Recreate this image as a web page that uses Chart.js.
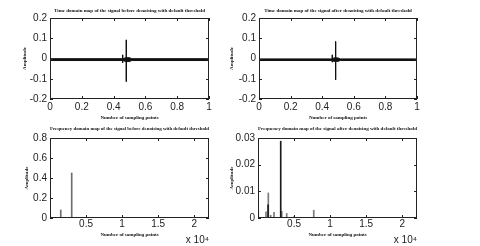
<!DOCTYPE html>
<html>
<head>
<meta charset="utf-8">
<script src="https://cdn.jsdelivr.net/npm/chart.js@4/dist/chart.umd.min.js"></script>
<style>
  body { margin: 0; background: #fff; }
  #wrap { position: relative; width: 480px; height: 246px; overflow: hidden; }
  canvas { position: absolute; }
</style>
</head>
<body>
<div id="wrap">
  <canvas id="time-before" width="240" height="123" style="left:0;top:0"></canvas>
  <canvas id="time-after" width="260" height="123" style="left:220px;top:0"></canvas>
  <canvas id="freq-before" width="240" height="123" style="left:0;top:123px"></canvas>
  <canvas id="freq-after" width="260" height="123" style="left:220px;top:123px"></canvas>
</div>
<script>
// time domain: noise band (upper / lower envelope) + spikes
const bandX = [0, 0.46, 0.475, 0.5, 0.515, 1];
const beforeUpper = [-0.001, -0.001, 0.004, 0.004, -0.001, -0.001];
const beforeLower = [-0.01, -0.01, -0.015, -0.015, -0.01, -0.01];
const afterUpper = [-0.002, -0.002, 0.003, 0.003, -0.002, -0.002];
const afterLower = [-0.01, -0.01, -0.014, -0.014, -0.01, -0.01];

const beforeSpikeX = [0.457, 0.48];
const beforeSpikeTop = [0.018, 0.092];
const beforeSpikeBottom = [-0.021, -0.114];
const afterSpikeX = [0.464, 0.485];
const afterSpikeTop = [0.018, 0.084];
const afterSpikeBottom = [-0.018, -0.105];

// frequency domain: spectral lines (Hz, amplitude)
const beforeFreq = [1490, 3010];
const beforeAmp = [0.08, 0.45];
const afterGrayFreq = [40, 1110, 1430, 1760, 2220, 3290, 3980, 4990, 7730];
const afterGrayAmp = [0.0027, 0.0023, 0.0094, 0.001, 0.0021, 0.0025, 0.0017, 0.0005, 0.0029];
const afterDarkFreq = [1400, 3150];
const afterDarkAmp = [0.0049, 0.0288];

const timeXTicks = [0, 0.2, 0.4, 0.6, 0.8, 1];
const timeYTicks = [-0.2, -0.1, 0, 0.1, 0.2];
const freqXTicks = [5000, 10000, 15000, 20000];
const freqMax = 22050;

const tickFont = { family: "Liberation Sans", size: 10 };
const serifFont = { family: "Liberation Serif", size: 5, weight: "bold", lineHeight: 1.2 };

// MATLAB-like box with inward tick marks
const boxTicks = {
  id: "boxTicks",
  afterDatasetsDraw(chart) {
    const { ctx, chartArea: a, scales } = chart;
    ctx.save();
    ctx.strokeStyle = "#222";
    ctx.lineWidth = 1;
    ctx.strokeRect(Math.round(a.left) + 0.5, Math.round(a.top) + 0.5, Math.round(a.width) - 1, Math.round(a.height) - 1);
    ctx.beginPath();
    scales.x.ticks.forEach((t) => {
      const px = Math.round(scales.x.getPixelForValue(t.value)) + 0.5;
      ctx.moveTo(px, a.bottom);
      ctx.lineTo(px, a.bottom - 3);
      ctx.moveTo(px, a.top);
      ctx.lineTo(px, a.top + 3);
    });
    scales.y.ticks.forEach((t) => {
      const py = Math.round(scales.y.getPixelForValue(t.value)) + 0.5;
      ctx.moveTo(a.left, py);
      ctx.lineTo(a.left + 3, py);
      ctx.moveTo(a.right, py);
      ctx.lineTo(a.right - 3, py);
    });
    ctx.stroke();
    ctx.restore();
  },
};

function pts(xs, ys) {
  return xs.map((x, i) => ({ x: x, y: ys[i] }));
}

function spikePts(xs, tops, bottoms) {
  const out = [];
  xs.forEach((x, i) => {
    if (i > 0) out.push({ x: x, y: null });
    out.push({ x: x, y: tops[i] });
    out.push({ x: x, y: bottoms[i] });
  });
  return out;
}

function baseOptions(p) {
  return {
    responsive: false,
    animation: false,
    layout: { padding: { left: p.padLeft, right: p.padRight, top: 0, bottom: 0 } },
    plugins: {
      legend: { display: false },
      tooltip: { enabled: false },
      title: {
        display: true,
        text: p.title,
        color: "#111",
        font: serifFont,
        fullSize: false,
        padding: { top: p.titleTop, bottom: p.titleBottom },
      },
      subtitle: {
        display: !!p.sub,
        text: "x 10⁴",
        position: "bottom",
        align: "end",
        fullSize: false,
        color: "#222",
        font: { family: "Liberation Sans", size: 10, lineHeight: 1.2 },
        padding: { top: -6, bottom: 0 },
      },
    },
    scales: {
      x: {
        type: "linear",
        min: p.xMin,
        max: p.xMax,
        offset: false,
        afterFit: (s) => { s.height = p.xHeight; },
        afterBuildTicks: (s) => { s.ticks = p.xTicks.map((v) => ({ value: v })); },
        grid: { display: false, drawTicks: false },
        border: { display: false },
        title: {
          display: true,
          text: "Number of sampling points",
          color: "#111",
          font: serifFont,
          padding: { top: 0, bottom: 2 },
        },
        ticks: {
          maxRotation: 0,
          autoSkip: false,
          padding: p.xTickPad,
          color: "#222",
          font: tickFont,
          callback: p.xLabel,
        },
      },
      y: {
        min: p.yMin,
        max: p.yMax,
        afterFit: (s) => { s.width = p.yWidth; },
        afterBuildTicks: (s) => { s.ticks = p.yTicks.map((v) => ({ value: v })); },
        grid: { display: false, drawTicks: false },
        border: { display: false },
        title: {
          display: true,
          text: "Amplitude",
          color: "#111",
          font: serifFont,
          padding: { top: p.yTitlePad, bottom: 0 },
        },
        ticks: {
          autoSkip: false,
          padding: 3,
          color: "#222",
          font: tickFont,
        },
      },
    },
  };
}

function timeChart(id, title, upper, lower, sx, st, sb, p) {
  new Chart(document.getElementById(id).getContext("2d"), {
    type: "line",
    data: {
      datasets: [
        {
          data: pts(bandX, upper),
          borderColor: "#111",
          backgroundColor: "#111",
          borderWidth: 1,
          pointRadius: 0,
          fill: "+1",
        },
        {
          data: pts(bandX, lower),
          borderColor: "#111",
          borderWidth: 1,
          pointRadius: 0,
          fill: false,
        },
        {
          data: spikePts(sx, st, sb),
          borderColor: "#111",
          borderWidth: 1,
          pointRadius: 0,
          fill: false,
          spanGaps: false,
        },
      ],
    },
    options: baseOptions(Object.assign({
      title: title,
      xMin: 0, xMax: 1, xTicks: timeXTicks,
      yMin: -0.2, yMax: 0.2, yTicks: timeYTicks,
      xHeight: 24, titleTop: 8, titleBottom: 4, xTickPad: 2,
    }, p)),
    plugins: [boxTicks],
  });
}

function freqOptions(title, yMax, yTicks, p) {
  return baseOptions(Object.assign({
    title: title,
    xMin: 0, xMax: freqMax, xTicks: freqXTicks,
    xLabel: (v) => v / 1e4,
    yMin: 0, yMax: yMax, yTicks: yTicks,
    xHeight: 22, titleTop: 3, titleBottom: 6, xTickPad: 0, sub: true,
  }, p));
}

timeChart("time-before", "Time domain map of the signal before denoising with default threshold",
  beforeUpper, beforeLower, beforeSpikeX, beforeSpikeTop, beforeSpikeBottom,
  { padLeft: 0, padRight: 31, yWidth: 50, yTitlePad: 22 });

timeChart("time-after", "Time domain map of the signal after denoising with default threshold",
  afterUpper, afterLower, afterSpikeX, afterSpikeTop, afterSpikeBottom,
  { padLeft: 0, padRight: 63, yWidth: 39, yTitlePad: 9 });

new Chart(document.getElementById("freq-before").getContext("2d"), {
  type: "bar",
  data: {
    datasets: [
      {
        data: pts(beforeFreq, beforeAmp),
        backgroundColor: "#6e6e6e",
        barThickness: 1,
        grouped: false,
      },
    ],
  },
  options: freqOptions("Frequency domain map of the signal before denoising with default threshold",
    0.8, [0, 0.2, 0.4, 0.6, 0.8], { padLeft: 0, padRight: 31, yWidth: 50, yTitlePad: 24 }),
  plugins: [boxTicks],
});

new Chart(document.getElementById("freq-after").getContext("2d"), {
  type: "bar",
  data: {
    datasets: [
      {
        data: pts(afterDarkFreq, afterDarkAmp),
        backgroundColor: "#1a1a1a",
        barThickness: 1,
        grouped: false,
      },
      {
        data: pts(afterGrayFreq, afterGrayAmp),
        backgroundColor: "#7a7a7a",
        barThickness: 1,
        grouped: false,
      },
    ],
  },
  options: freqOptions("Frequency domain map of the signal after denoising with default threshold",
    0.03, [0, 0.01, 0.02, 0.03], { padLeft: 0, padRight: 63, yWidth: 38, yTitlePad: 9 }),
  plugins: [boxTicks],
});
</script>
</body>
</html>
